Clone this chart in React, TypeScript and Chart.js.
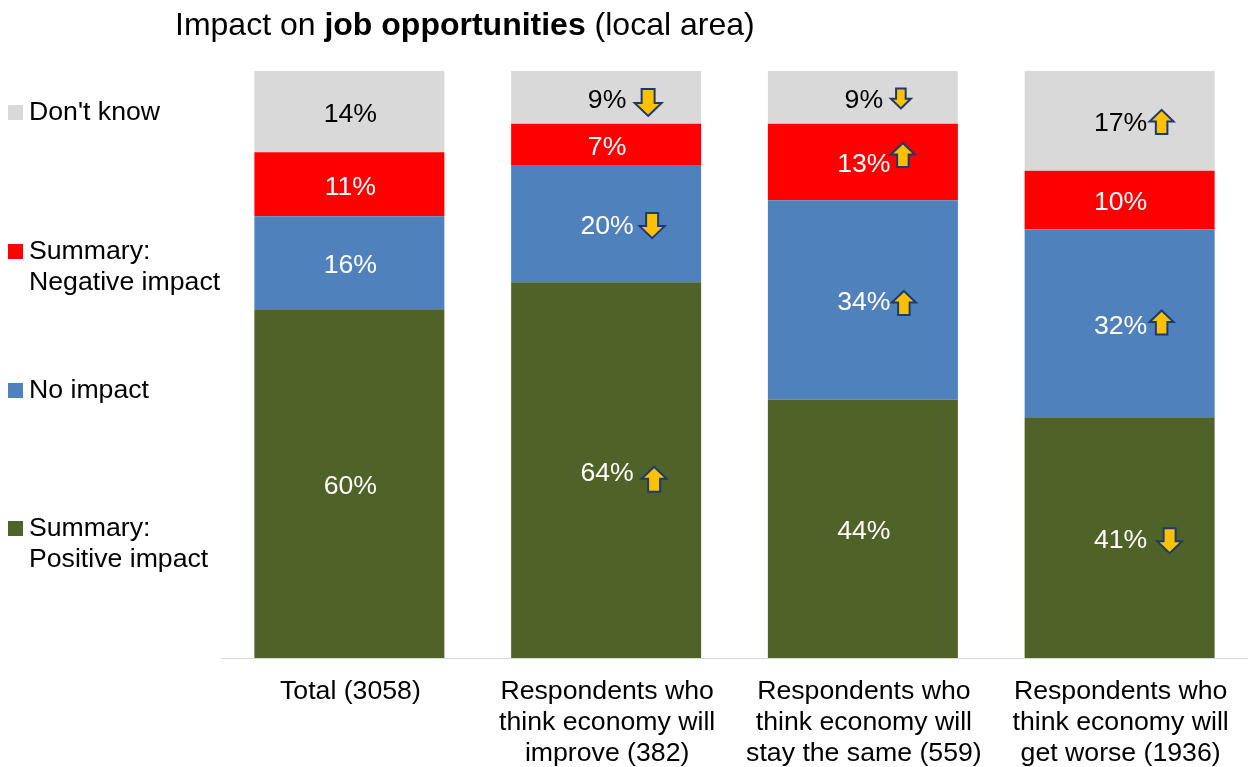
import React, { useEffect, useRef } from "react";
import { Chart, registerables } from "chart.js";

Chart.register(...registerables);

const FONT = '"Liberation Sans", Arial, sans-serif';
const TEXT_SIZE = 26.67;

const categories = [
  ["Total (3058)"],
  ["Respondents who", "think economy will", "improve (382)"],
  ["Respondents who", "think economy will", "stay the same (559)"],
  ["Respondents who", "think economy will", "get worse (1936)"],
];

const positiveImpact = [60, 64, 44, 41];
const noImpact = [16, 20, 34, 32];
const negativeImpact = [11, 7, 13, 10];
const dontKnow = [14, 9, 9, 17];

// Significance direction per group: 1 higher than total, -1 lower, 0 none.
const positiveTrend = [0, 1, 0, -1];
const noImpactTrend = [0, -1, 1, 1];
const negativeTrend = [0, 0, 1, 0];
const dontKnowTrend = [0, -1, -1, 1];

const seriesValues = [positiveImpact, noImpact, negativeImpact, dontKnow];
const seriesTrends = [positiveTrend, noImpactTrend, negativeTrend, dontKnowTrend];
const seriesNames = [
  ["Summary:", "Positive impact"],
  ["No impact"],
  ["Summary:", "Negative impact"],
  ["Don't know"],
];
const seriesColors = ["#4F6228", "#4F81BD", "#FF0000", "#D9D9D9"];
const labelColors = ["#FFFFFF", "#FFFFFF", "#FFFFFF", "#000000"];

// Legend rows sit at hand-picked heights, bottom series first.
const legendRowY = [528, 390, 251, 112];

// Arrow placement relative to the centre of its segment: [series][group] = [dx, dy, size].
const arrowPlacement: Record<string, [number, number, number]> = {
  "0-1": [48, 9, 25],
  "0-3": [50, 3, 25],
  "1-1": [46, 2, 25],
  "1-2": [41, 3, 24],
  "1-3": [42, -1, 24],
  "2-2": [40, -7, 24],
  "3-1": [42, 5, 27],
  "3-2": [38, 1, 20],
  "3-3": [42, 1, 24],
};

function drawArrow(ctx: CanvasRenderingContext2D, cx: number, cy: number, size: number, dir: number) {
  const half = size / 2;
  const shaft = size * 0.24;
  const headLen = size * 0.48;
  ctx.save();
  ctx.translate(cx, cy);
  ctx.scale(1, dir > 0 ? 1 : -1);
  ctx.beginPath();
  ctx.moveTo(0, -half);
  ctx.lineTo(half, -half + headLen);
  ctx.lineTo(shaft, -half + headLen);
  ctx.lineTo(shaft, half);
  ctx.lineTo(-shaft, half);
  ctx.lineTo(-shaft, -half + headLen);
  ctx.lineTo(-half, -half + headLen);
  ctx.closePath();
  ctx.fillStyle = "#FFC000";
  ctx.strokeStyle = "#1B3A73";
  ctx.lineWidth = 2;
  ctx.lineJoin = "miter";
  ctx.fill();
  ctx.stroke();
  ctx.restore();
}

const annotations = {
  id: "annotations",
  afterDatasetsDraw(chart: Chart) {
    const ctx = chart.ctx;
    ctx.save();

    // Segment value labels and their direction arrows
    ctx.textAlign = "center";
    ctx.textBaseline = "middle";
    ctx.font = `${TEXT_SIZE}px ${FONT}`;
    seriesValues.forEach((values, s) => {
      const meta = chart.getDatasetMeta(s);
      values.forEach((value, g) => {
        const bar = meta.data[g] as any;
        const cy = (bar.y + bar.base) / 2;
        ctx.fillStyle = labelColors[s];
        ctx.fillText(`${value}%`, bar.x + 1, cy + 3);
        const dir = seriesTrends[s][g];
        const place = arrowPlacement[`${s}-${g}`];
        if (dir !== 0 && place) {
          drawArrow(ctx, bar.x + place[0], cy + place[1], place[2], dir);
        }
      });
    });

    // Legend down the left side
    ctx.textAlign = "left";
    seriesNames.forEach((lines, s) => {
      const y = legendRowY[s];
      ctx.fillStyle = seriesColors[s];
      ctx.fillRect(8, y - 7, 15, 15);
      ctx.fillStyle = "#000000";
      lines.forEach((line, i) => ctx.fillText(line, 29, y + 1 + i * 31));
    });

    // Title with a bold run in the middle
    const titleParts: [string, string][] = [
      ["Impact on ", "normal"],
      ["job opportunities", "bold"],
      [" (local area)", "normal"],
    ];
    let x = 175;
    ctx.fillStyle = "#000000";
    ctx.textBaseline = "alphabetic";
    titleParts.forEach(([text, weight]) => {
      ctx.font = `${weight} 32px ${FONT}`;
      ctx.fillText(text, x, 35);
      x += ctx.measureText(text).width;
    });
    ctx.restore();
  },
};

export default function App() {
  const ref = useRef<HTMLCanvasElement>(null);

  useEffect(() => {
    document.body.style.margin = "0";
    const totals = categories.map((_, g) => seriesValues.reduce((sum, v) => sum + v[g], 0));
    const chart = new Chart(ref.current!, {
      type: "bar",
      data: {
        labels: categories,
        datasets: seriesValues.map((values, s) => ({
          label: seriesNames[s].join(" "),
          // Rounded shares can total 101, so each column is scaled to fill the axis
          data: values.map((v, g) => (v / totals[g]) * 100),
          backgroundColor: seriesColors[s],
          borderWidth: 0,
          barPercentage: 1,
          categoryPercentage: 0.74,
        })),
      },
      options: {
        animation: false,
        responsive: false,
        layout: { padding: { left: 221, top: 71, right: 0, bottom: 0 } },
        plugins: { legend: { display: false }, title: { display: false }, tooltip: { enabled: false } },
        scales: {
          x: {
            stacked: true,
            grid: { display: false, drawTicks: false },
            border: { display: true, color: "#D9D9D9", width: 1 },
            ticks: {
              color: "#000000",
              padding: 18,
              labelOffset: 1,
              maxRotation: 0,
              autoSkip: false,
              font: { family: FONT, size: TEXT_SIZE, lineHeight: 31 / TEXT_SIZE },
            },
            afterFit(scale: any) {
              scale.height = 109;
            },
          },
          y: { stacked: true, display: false, min: 0, max: 100 },
        },
      },
      plugins: [annotations],
    });
    return () => chart.destroy();
  }, []);

  return <canvas ref={ref} width={1248} height={767} style={{ display: "block" }} />;
}
